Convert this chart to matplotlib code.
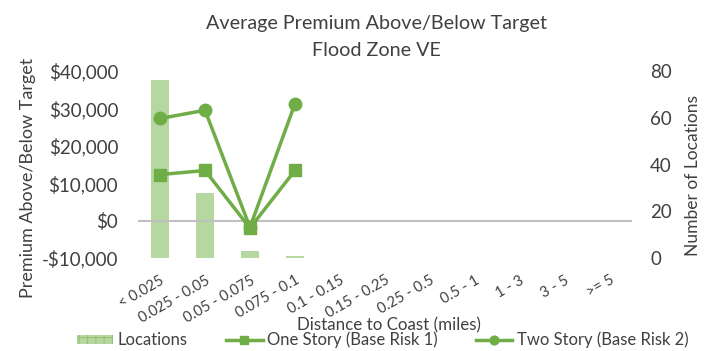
import matplotlib
matplotlib.use("Agg")
import matplotlib.pyplot as plt
import numpy as np
from matplotlib.ticker import FuncFormatter
from matplotlib.patches import Patch

categories = ["< 0.025", "0.025 - 0.05", "0.05 - 0.075", "0.075 - 0.1", "0.1 - 0.15",
              "0.15 - 0.25", "0.25 - 0.5", "0.5 - 1", "1 - 3", "3 - 5", ">= 5"]
locations = [76, 28, 3, 1, 0, 0, 0, 0, 0, 0, 0]
one_story = [12300, 13400, -2000, 13400]
two_story = [27300, 29500, -1800, 31200]

plt.rcParams['font.family'] = ['Lato', 'DejaVu Sans']
plt.rcParams['hatch.linewidth'] = 0.8
plt.rcParams['ytick.major.pad'] = 13.5
plt.rcParams['ytick.major.size'] = 0
plt.rcParams['xtick.major.size'] = 0
plt.rcParams['xtick.major.pad'] = 11
fig = plt.figure(figsize=(7.11, 3.51), dpi=100)
ax = fig.add_axes([137.6/711, 1-258/351, (632-137.6)/711, (258-71)/351])
ax2 = ax.twinx()
ax.set_zorder(ax2.get_zorder() + 1)
ax.patch.set_visible(False)

x = np.arange(len(categories))
bar_color = '#b7d7a0'
line_color = '#70ad47'
text_color = '#404040'
ax2.bar(x, locations, width=0.4, color=bar_color, label='Locations')
ax2.set_ylim(0, 80)
ax2.set_yticks([0, 20, 40, 60, 80])

ax.plot(x[:len(one_story)], one_story, color=line_color, lw=2.5, marker='s', ms=9,
        label='One Story (Base Risk 1)')
ax.plot(x[:len(two_story)], two_story, color=line_color, lw=2.5, marker='o', ms=9,
        label='Two Story (Base Risk 2)')
ax.axhline(0, color='#bfbfbf', lw=1.5, zorder=0)
ax.set_ylim(-10000, 40000)
ax.set_yticks(np.arange(-10000, 40001, 10000))
ax.yaxis.set_major_formatter(FuncFormatter(lambda v, p: f"${v:,.0f}" if v >= 0 else f"-${-v:,.0f}"))
ax.set_xlim(-0.5, len(categories) - 0.5)
ax.set_xticks(x)
ax.set_xticklabels(categories, rotation=30, ha='right', rotation_mode='anchor', fontsize=10.5, color=text_color)

for a in (ax, ax2):
    for s in a.spines.values():
        s.set_visible(False)
    a.tick_params(length=0, labelsize=13.5, colors=text_color)
ax.tick_params(axis='y', pad=14)
ax2.tick_params(axis='y', pad=13)
ax.tick_params(axis='x', labelsize=10.5, pad=11)

ax.set_ylabel('Premium Above/Below Target', fontsize=13, color=text_color)
ax.yaxis.label.set_va('center')
ax.yaxis.set_label_coords(28/711, 1-178/351, transform=fig.transFigure)
ax2.set_ylabel('Number of Locations', fontsize=12.5, color=text_color)
ax2.yaxis.label.set_va('center')
ax2.yaxis.set_label_coords(693/711, 1-176/351, transform=fig.transFigure)
ax.set_xlabel('Distance to Coast (miles)', fontsize=12.2, color=text_color)
ax.xaxis.set_label_coords(389/711, 1-325/351, transform=fig.transFigure)
ax.xaxis.label.set_va('center')
fig.text(376/711, 1-23/351, 'Average Premium Above/Below Target', fontsize=14.2, color=text_color,
         ha='center', va='center')
fig.text(376/711, 1-50/351, 'Flood Zone VE', fontsize=14.2, color=text_color,
         ha='center', va='center')

h2, l2 = ax.get_legend_handles_labels()
loc_handle = Patch(facecolor=bar_color, edgecolor='#94c47a', hatch='++', linewidth=0)
fig.legend([loc_handle] + h2, ['Locations'] + l2, loc='lower center', ncol=3, frameon=False,
           fontsize=12, bbox_to_anchor=(0.538, -0.035), handlelength=2.2, handleheight=0.45,
           columnspacing=2.3, labelcolor=text_color, markerscale=0.7, handletextpad=0.25)

fig.savefig('out.png', dpi=100)
